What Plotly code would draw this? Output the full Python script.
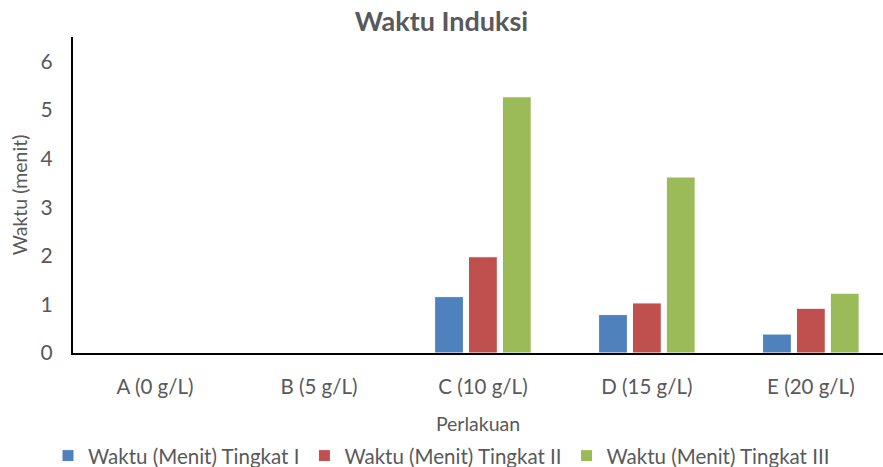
import plotly.graph_objects as go

categories = ["A (0 g/L)", "B (5 g/L)", "C (10 g/L)", "D (15 g/L)", "E (20 g/L)"]
series_names = ["Waktu (Menit) Tingkat I", "Waktu (Menit) Tingkat II", "Waktu (Menit) Tingkat III"]
tingkat_1 = [0, 0, 1.16, 0.79, 0.39]
tingkat_2 = [0, 0, 1.98, 1.03, 0.92]
tingkat_3 = [0, 0, 5.27, 3.62, 1.23]
colors = ["#4F81BD", "#C0504D", "#9BBB59"]
y_ticks = [0, 1, 2, 3, 4, 5, 6]

font_family = "Lato, 'Open Sans', sans-serif"
grey = "#595959"

fig = go.Figure()
for name, vals, col in zip(series_names, [tingkat_1, tingkat_2, tingkat_3], colors):
    fig.add_trace(go.Bar(x=categories, y=vals, name=name,
                         marker=dict(color=col, line=dict(color="white", width=1))))

fig.update_layout(
    width=883, height=467,
    margin=dict(l=73, r=0, t=37, b=114),
    paper_bgcolor="white", plot_bgcolor="white",
    barmode="group", bargap=0.38, bargroupgap=0.15,
    title=dict(text="<b>Waktu Induksi</b>", x=0.5, xanchor="center", y=0.953, yanchor="middle",
               font=dict(family=font_family, size=27, color=grey)),
    font=dict(family=font_family, color=grey),
    showlegend=True,
    legend=dict(orientation="h", xref="container", yref="container",
                x=0.5, xanchor="center", y=0.024, yanchor="middle",
                font=dict(size=20.5, color=grey), itemwidth=30, tracegroupgap=0,
                traceorder="normal"),
)
fig.update_xaxes(
    range=[-0.5, 4.44], showline=True, linecolor="black", linewidth=2,
    ticks="", tickfont=dict(size=20.5, color=grey), showgrid=False,
    ticklabelstandoff=14, automargin=True,
    title=dict(text="Perlakuan", font=dict(size=19.5, color=grey), standoff=21),
)
fig.update_yaxes(
    range=[0, 6.5], tickvals=y_ticks, showline=True, linecolor="black", linewidth=2,
    ticks="", tickfont=dict(size=21, color=grey), showgrid=False, zeroline=False,
    ticklabelstandoff=14, automargin=False,
    title=dict(text="Waktu (menit)", font=dict(size=19.5, color=grey), standoff=8),
)

fig.write_html("out.html", config={"displayModeBar": False},
               post_script="document.body.style.margin='0';")
